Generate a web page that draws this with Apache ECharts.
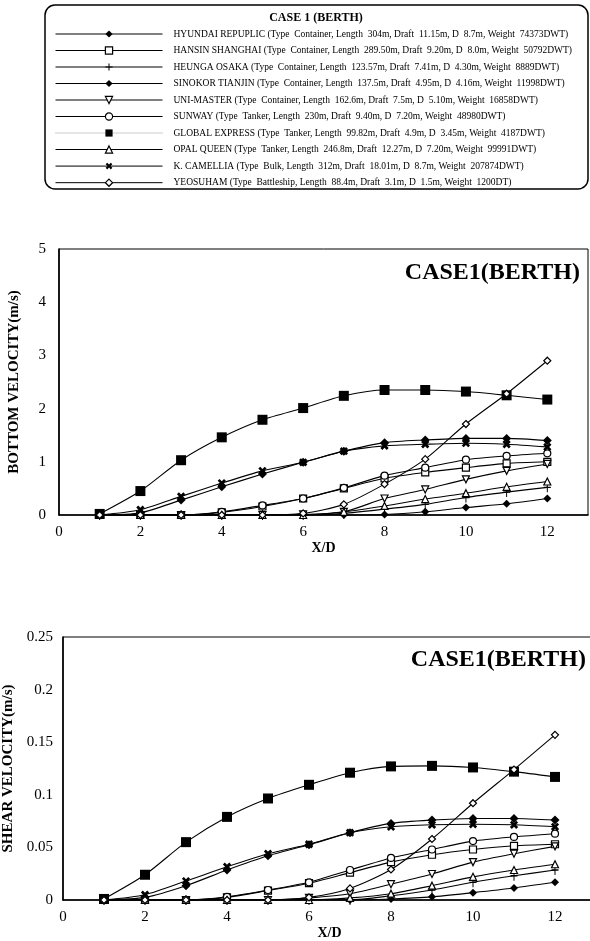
<!DOCTYPE html>
<html>
<head>
<meta charset="utf-8">
<script src="https://cdn.jsdelivr.net/npm/echarts@6/dist/echarts.min.js"></script>
<style>
  html, body { margin: 0; padding: 0; background: #fff; }
  #chart { width: 590px; height: 941px; }
</style>
</head>
<body>
<div id="chart"></div>
<script>
// Distance from the ship, in propeller diameters
const xd = [1, 2, 3, 4, 5, 6, 7, 8, 9, 10, 11, 12];

const shipNames = [
  'HYUNDAI REPUPLIC (Type  Container, Length  304m, Draft  11.15m, D  8.7m, Weight  74373DWT)',
  'HANSIN SHANGHAI (Type  Container, Length  289.50m, Draft  9.20m, D  8.0m, Weight  50792DWT)',
  'HEUNGA OSAKA (Type  Container, Length  123.57m, Draft  7.41m, D  4.30m, Weight  8889DWT)',
  'SINOKOR TIANJIN (Type  Container, Length  137.5m, Draft  4.95m, D  4.16m, Weight  11998DWT)',
  'UNI-MASTER (Type  Container, Length  162.6m, Draft  7.5m, D  5.10m, Weight  16858DWT)',
  'SUNWAY (Type  Tanker, Length  230m, Draft  9.40m, D  7.20m, Weight  48980DWT)',
  'GLOBAL EXPRESS (Type  Tanker, Length  99.82m, Draft  4.9m, D  3.45m, Weight  4187DWT)',
  'OPAL QUEEN (Type  Tanker, Length  246.8m, Draft  12.27m, D  7.20m, Weight  99991DWT)',
  'K. CAMELLIA (Type  Bulk, Length  312m, Draft  18.01m, D  8.7m, Weight  207874DWT)',
  'YEOSUHAM (Type  Battleship, Length  88.4m, Draft  3.1m, D  1.5m, Weight  1200DT)'
];

// Bottom velocity (m/s)
const bottomHyundai  = [0, 0, 0, 0, 0, 0, 0, 0.01, 0.06, 0.14, 0.21, 0.31];
const bottomHansin   = [0, 0, 0, 0.05, 0.16, 0.31, 0.50, 0.69, 0.80, 0.89, 0.97, 1.00];
const bottomHeunga   = [0, 0, 0, 0, 0, 0, 0.03, 0.11, 0.20, 0.33, 0.43, 0.52];
const bottomSinokor  = [0, 0.04, 0.28, 0.53, 0.77, 0.99, 1.20, 1.36, 1.41, 1.44, 1.44, 1.40];
const bottomUni      = [0, 0, 0, 0, 0, 0.01, 0.06, 0.31, 0.48, 0.67, 0.83, 0.96];
const bottomSunway   = [0, 0, 0, 0.06, 0.18, 0.31, 0.51, 0.74, 0.89, 1.04, 1.11, 1.16];
const bottomGlobal   = [0.02, 0.45, 1.03, 1.46, 1.79, 2.01, 2.24, 2.35, 2.35, 2.32, 2.25, 2.17];
const bottomOpal     = [0, 0, 0, 0, 0, 0, 0.06, 0.17, 0.30, 0.41, 0.53, 0.63];
const bottomCamellia = [0, 0.10, 0.35, 0.60, 0.83, 0.99, 1.20, 1.30, 1.33, 1.35, 1.33, 1.28];
const bottomYeosuham = [0, 0, 0, 0, 0, 0.03, 0.20, 0.58, 1.05, 1.71, 2.28, 2.90];

// Shear velocity (m/s)
const shearHyundai  = [0, 0, 0, 0, 0, 0, 0, 0.001, 0.003, 0.007, 0.0114, 0.0168];
const shearHansin   = [0, 0, 0, 0.0025, 0.009, 0.016, 0.026, 0.036, 0.043, 0.048, 0.0515, 0.053];
const shearHeunga   = [0, 0, 0, 0, 0, 0, 0, 0.004, 0.0095, 0.0168, 0.023, 0.0285];
const shearSinokor  = [0, 0.0025, 0.0136, 0.0285, 0.042, 0.0525, 0.064, 0.0728, 0.076, 0.0775, 0.0775, 0.076];
const shearUni      = [0, 0, 0, 0, 0, 0.002, 0.006, 0.015, 0.0247, 0.036, 0.044, 0.051];
const shearSunway   = [0, 0, 0, 0.003, 0.0095, 0.0168, 0.0285, 0.040, 0.048, 0.056, 0.060, 0.063];
const shearGlobal   = [0.001, 0.024, 0.055, 0.079, 0.0965, 0.1095, 0.121, 0.127, 0.1275, 0.126, 0.122, 0.117];
const shearOpal     = [0, 0, 0, 0, 0, 0, 0.002, 0.006, 0.0136, 0.022, 0.0285, 0.034];
const shearCamellia = [0, 0.005, 0.018, 0.0316, 0.044, 0.053, 0.064, 0.0696, 0.0715, 0.072, 0.0715, 0.0696];
const shearYeosuham = [0, 0, 0, 0, 0, 0.0025, 0.011, 0.029, 0.058, 0.092, 0.124, 0.157];

const bottomValues = [bottomHyundai, bottomHansin, bottomHeunga, bottomSinokor, bottomUni,
                      bottomSunway, bottomGlobal, bottomOpal, bottomCamellia, bottomYeosuham];
const shearValues  = [shearHyundai, shearHansin, shearHeunga, shearSinokor, shearUni,
                      shearSunway, shearGlobal, shearOpal, shearCamellia, shearYeosuham];

const yTicksBottom = { min: 0, max: 5, interval: 1 };
const yTicksShear  = { min: 0, max: 0.25, interval: 0.05 };
const xTicks       = { min: 0, max: 13, interval: 2 };

const serif = 'Liberation Serif';
const plusPath  = 'path://M4.3,0H5.7V4.3H10V5.7H5.7V10H4.3V5.7H0V4.3H4.3Z';
const crossPath = 'path://M3.5,0H6.5V3.5H10V6.5H6.5V10H3.5V6.5H0V3.5H3.5Z';

// Marker per ship (same order as shipNames)
const markerStyles = [
  { symbol: 'diamond',  size: 8,       fill: '#000' },
  { symbol: 'rect',     size: 7,       fill: '#fff' },
  { symbol: plusPath,   size: [7, 10], fill: '#000' },
  { symbol: 'diamond',  size: 9,       fill: '#000' },
  { symbol: 'triangle', size: 7,       fill: '#fff', rotate: 180 },
  { symbol: 'circle',   size: 7,       fill: '#fff' },
  { symbol: 'rect',     size: 10,      fill: '#000' },
  { symbol: 'triangle', size: 7,       fill: '#fff' },
  { symbol: crossPath,  size: 9,       fill: '#000', rotate: 45 },
  { symbol: 'diamond',  size: 7,       fill: '#fff' }
];

function buildSeries(values, idx) {
  return shipNames.map((name, i) => {
    const m = markerStyles[i];
    return {
      type: 'line',
      name: name,
      xAxisIndex: idx,
      yAxisIndex: idx,
      data: xd.map((x, j) => [x, values[i][j]]),
      smooth: 0.25,
      symbol: m.symbol,
      symbolSize: m.size,
      symbolRotate: m.rotate || 0,
      showAllSymbol: true,
      lineStyle: { color: '#000', width: 1.1 },
      itemStyle: {
        color: m.fill,
        borderColor: '#000',
        borderWidth: m.fill === '#fff' ? 1.2 : 0
      },
      emphasis: { disabled: true },
      animation: false
    };
  });
}

function xAxisFor(gridIndex, nameGap) {
  return {
    gridIndex: gridIndex,
    type: 'value',
    min: xTicks.min, max: xTicks.max, interval: xTicks.interval,
    axisLine: { show: true, onZero: false, lineStyle: { color: '#000', width: 1.6 } },
    axisTick: { show: false },
    splitLine: { show: false },
    axisLabel: {
      color: '#000', fontFamily: serif, fontSize: 15, margin: 10,
      formatter: v => (v % 2 === 0 ? String(v) : '')
    },
    name: 'X/D',
    nameLocation: 'middle',
    nameGap: nameGap,
    nameTextStyle: { color: '#000', fontFamily: serif, fontWeight: 'bold', fontSize: 14 }
  };
}

function yAxisFor(gridIndex, ticks, name, labelMargin, nameGap) {
  return {
    gridIndex: gridIndex,
    type: 'value',
    min: ticks.min, max: ticks.max, interval: ticks.interval,
    axisLine: { show: true, lineStyle: { color: '#000', width: 1.6 } },
    axisTick: { show: false },
    splitLine: { show: false },
    axisLabel: { color: '#000', fontFamily: serif, fontSize: 15, margin: labelMargin },
    name: name,
    nameLocation: 'middle',
    nameGap: nameGap,
    nameTextStyle: { color: '#000', fontFamily: serif, fontWeight: 'bold', fontSize: 15 }
  };
}

const legendData = shipNames.map((name, i) => {
  const m = markerStyles[i];
  const item = {
    name: name,
    itemStyle: { color: m.fill, borderColor: '#000', borderWidth: m.fill === '#fff' ? 1.2 : 0 }
  };
  if (i === 6) {
    item.lineStyle = { color: '#999', width: 1, type: 'dotted' };
  }
  return item;
});

const chart = echarts.init(document.getElementById('chart'), null, { renderer: 'canvas' });

chart.setOption({
  backgroundColor: '#fff',
  animation: false,
  textStyle: { fontFamily: serif },
  grid: [
    { left: 59, top: 249, width: 529, height: 266, show: true, borderColor: '#000', borderWidth: 1,
      outerBoundsMode: 'none', containLabel: false },
    { left: 63, top: 637, width: 533, height: 263, show: true, borderColor: '#000', borderWidth: 1,
      outerBoundsMode: 'none', containLabel: false }
  ],
  xAxis: [xAxisFor(0, 26), xAxisFor(1, 21)],
  yAxis: [
    yAxisFor(0, yTicksBottom, 'BOTTOM VELOCITY(m/s)', 13, 37),
    yAxisFor(1, yTicksShear, 'SHEAR VELOCITY(m/s)', 10, 41)
  ],
  legend: {
    orient: 'vertical',
    left: 55,
    top: 29,
    padding: 0,
    itemWidth: 107,
    itemHeight: 9,
    itemGap: 6.5,
    selectedMode: false,
    data: legendData,
    lineStyle: { color: '#000', width: 1 },
    textStyle: { color: '#000', fontFamily: serif, fontSize: 9.5, lineHeight: 10, padding: [0, 0, 0, 6] }
  },
  graphic: [
    {
      type: 'rect', silent: true, z: 0,
      shape: { x: 45, y: 5, width: 543, height: 184, r: 10 },
      style: { fill: 'none', stroke: '#000', lineWidth: 1.5 }
    },
    {
      type: 'text', silent: true, x: 316, y: 18,
      style: { text: 'CASE 1 (BERTH)', font: 'bold 12px "Liberation Serif"', fill: '#000',
               align: 'center', verticalAlign: 'middle', textAlign: 'center', textVerticalAlign: 'middle' }
    },
    {
      type: 'text', silent: true, x: 580, y: 273,
      style: { text: 'CASE1(BERTH)', font: 'bold 24px "Liberation Serif"', fill: '#000',
               align: 'right', verticalAlign: 'middle', textAlign: 'right', textVerticalAlign: 'middle' }
    },
    {
      type: 'text', silent: true, x: 586, y: 660,
      style: { text: 'CASE1(BERTH)', font: 'bold 24px "Liberation Serif"', fill: '#000',
               align: 'right', verticalAlign: 'middle', textAlign: 'right', textVerticalAlign: 'middle' }
    }
  ],
  series: buildSeries(bottomValues, 0).concat(buildSeries(shearValues, 1))
});
</script>
</body>
</html>
